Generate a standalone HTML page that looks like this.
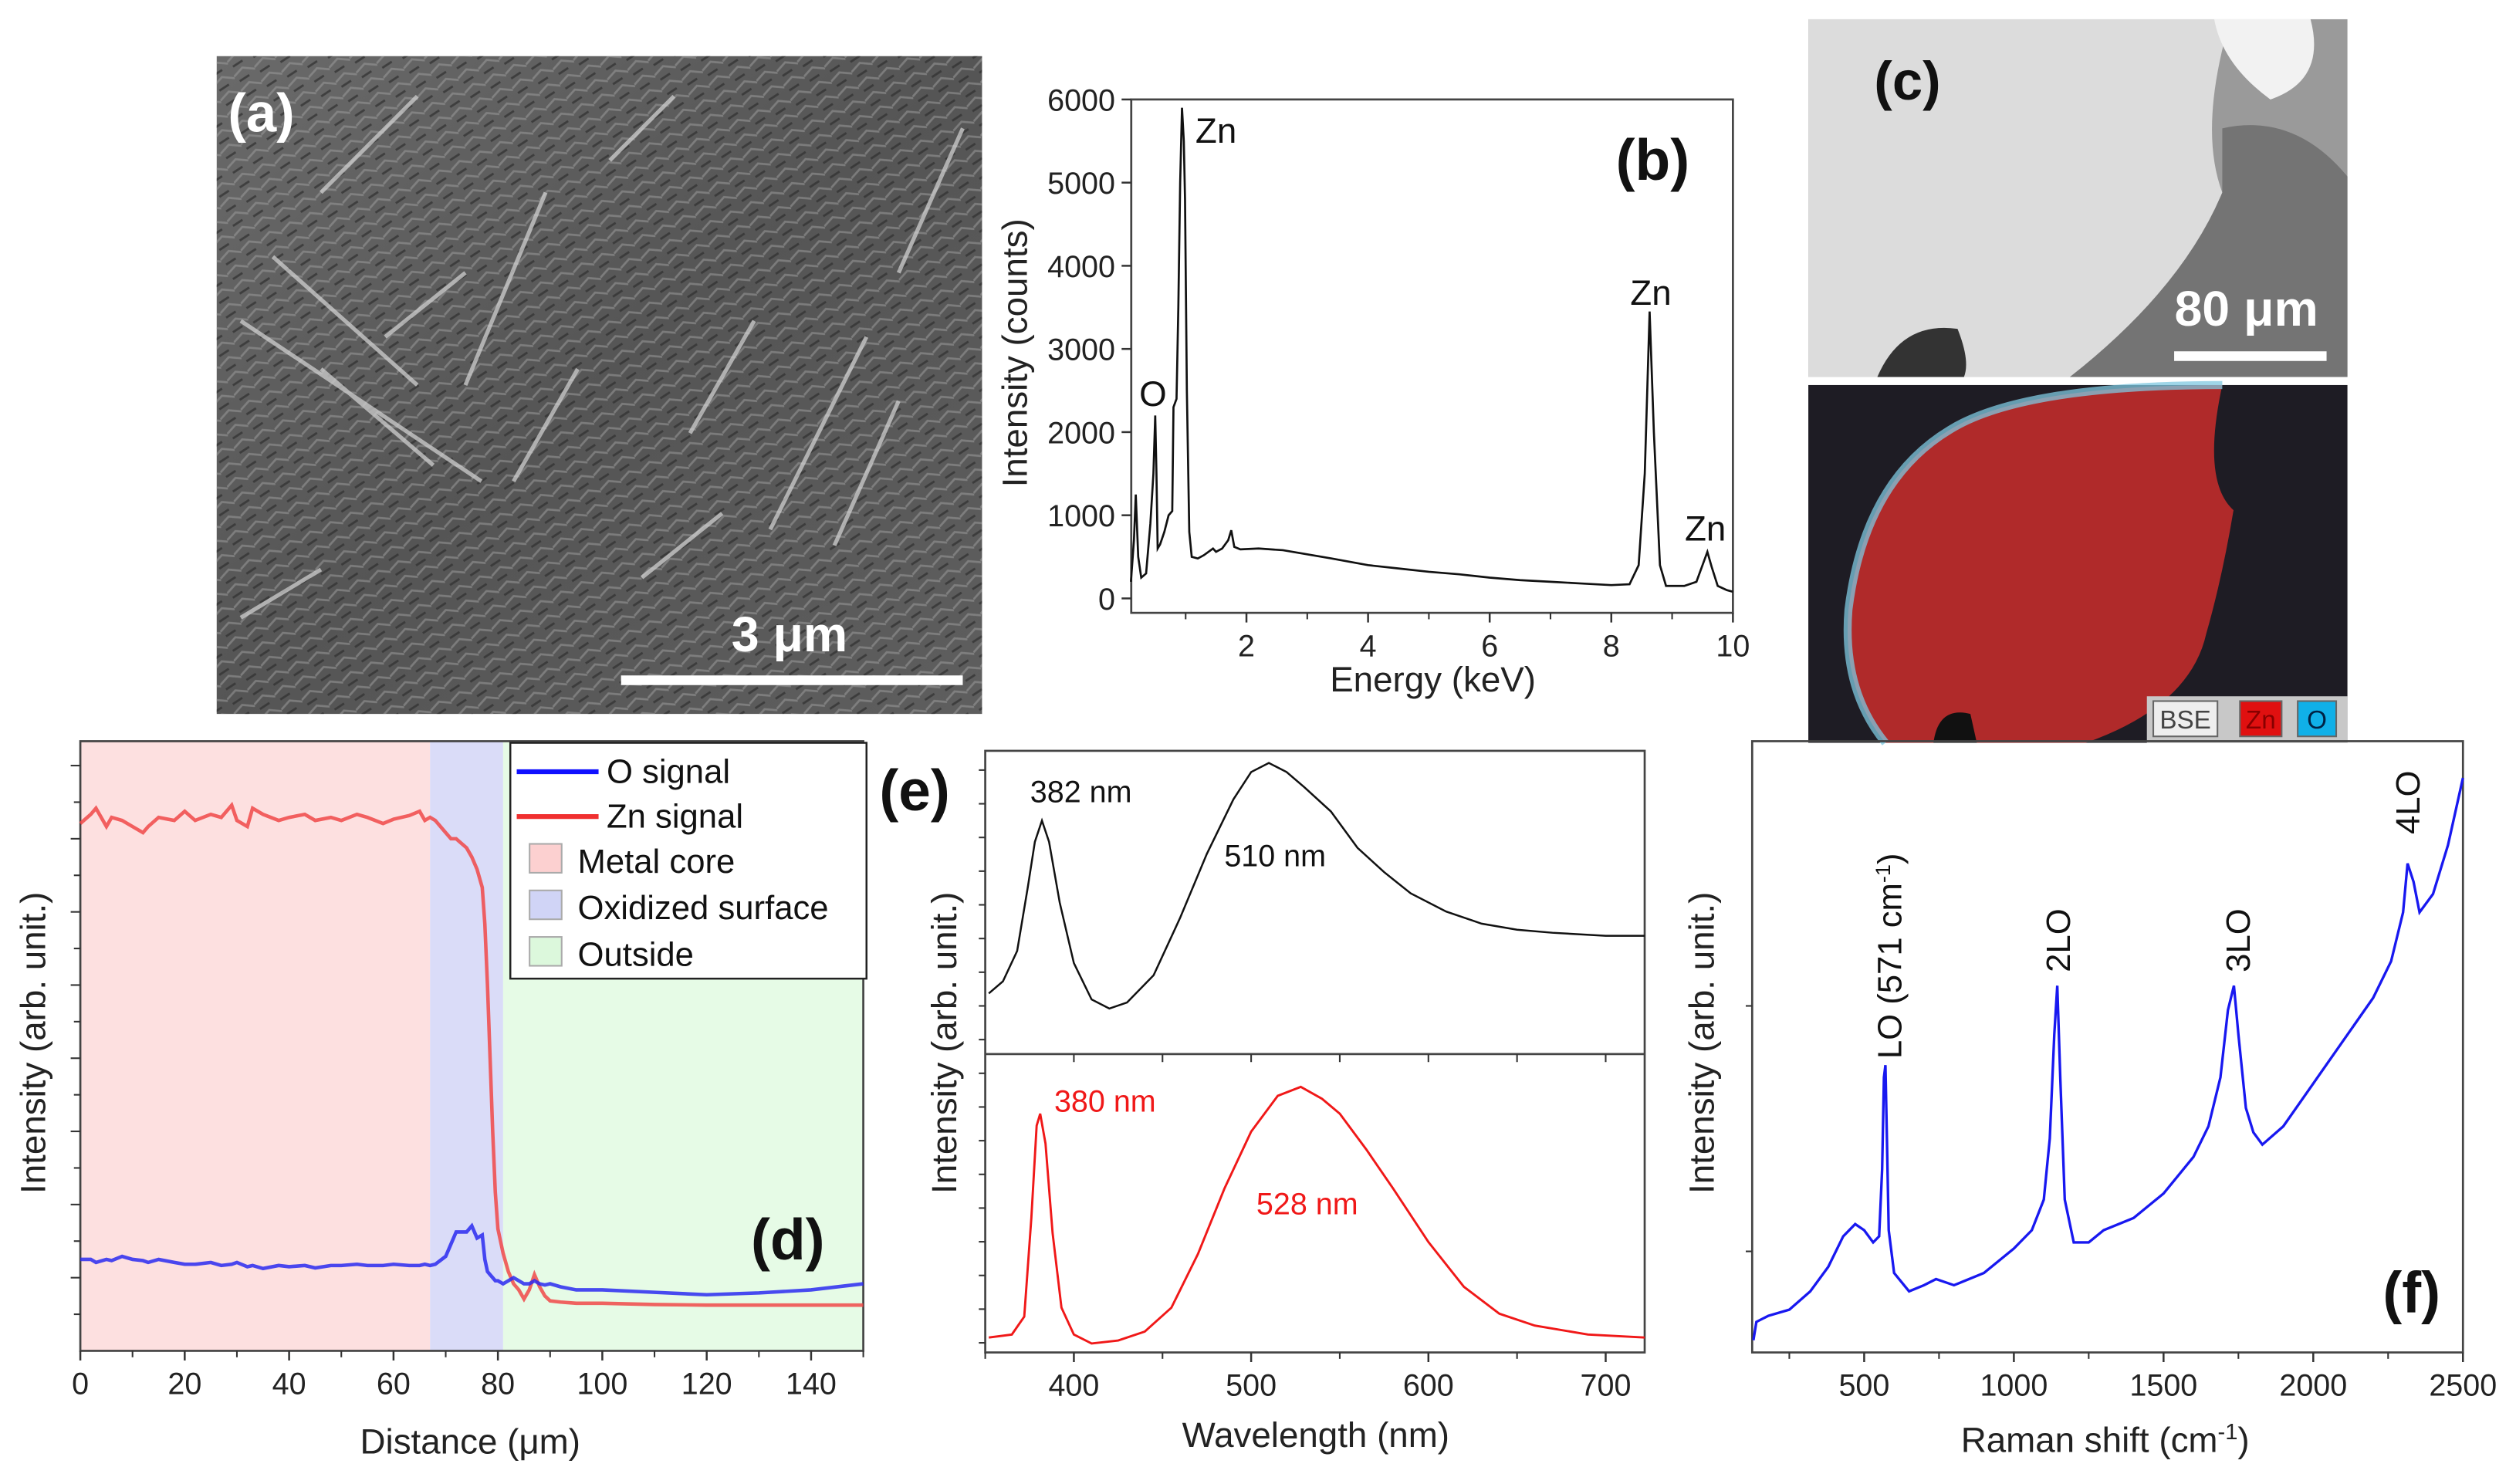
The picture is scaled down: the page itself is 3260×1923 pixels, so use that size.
<!DOCTYPE html>
<html><head><meta charset="utf-8"><style>
html,body{margin:0;padding:0;background:#fff}
svg{display:block}
text{font-family:"Liberation Sans",Arial,sans-serif}
</style></head><body>
<svg id="fig" width="3260" height="1923" viewBox="0 0 1568 925" xmlns="http://www.w3.org/2000/svg">
<defs>
<linearGradient id="semg" x1="0" y1="0" x2="1" y2="1"><stop offset="0" stop-color="#6a6a6a"/><stop offset="0.5" stop-color="#555"/><stop offset="1" stop-color="#5e5e5e"/></linearGradient>
<pattern id="tex" width="14" height="10" patternUnits="userSpaceOnUse" patternTransform="rotate(-25)"><rect width="14" height="10" fill="none"/><path d="M0 5 L7 2 L14 6" stroke="#9a9a9a" stroke-width="1.3" fill="none" opacity="0.55"/><path d="M2 9 L9 8" stroke="#2e2e2e" stroke-width="1.4" opacity="0.7"/></pattern>
</defs>
<!-- (a) SEM -->
<g>
<rect x="135" y="35" width="477" height="410" fill="url(#semg)"/>
<rect x="135" y="35" width="477" height="410" fill="url(#tex)"/>
<g stroke="#cfcfcf" stroke-width="2.5" opacity="0.75">
<line x1="150" y1="200" x2="300" y2="300"/><line x1="290" y1="240" x2="340" y2="120"/><line x1="480" y1="330" x2="540" y2="210"/><line x1="200" y1="120" x2="260" y2="60"/><line x1="150" y1="385" x2="200" y2="355"/><line x1="380" y1="100" x2="420" y2="60"/><line x1="520" y1="340" x2="560" y2="250"/><line x1="240" y1="210" x2="290" y2="170"/>
<line x1="170" y1="160" x2="260" y2="240"/><line x1="200" y1="230" x2="270" y2="290"/><line x1="320" y1="300" x2="360" y2="230"/><line x1="430" y1="270" x2="470" y2="200"/><line x1="560" y1="170" x2="600" y2="80"/><line x1="400" y1="360" x2="450" y2="320"/></g>
<text x="142" y="82" font-size="34" font-weight="bold" fill="#fff">(a)</text>
<line x1="387" y1="424" x2="600" y2="424" stroke="#fff" stroke-width="6"/>
<text x="492" y="406" font-size="31" font-weight="bold" fill="#fff" text-anchor="middle">3 μm</text>
</g>
<!-- (c) images -->
<g>
<rect x="1127" y="12" width="336" height="223" fill="#9a9a9a"/>
<path d="M1127 12 L1390 12 Q1370 80 1385 120 Q1360 180 1290 235 L1127 235 Z" fill="#dcdcdc"/>
<path d="M1380 12 L1440 12 Q1450 50 1415 62 Q1385 40 1380 12Z" fill="#f2f2f2"/>
<path d="M1385 80 Q1430 70 1463 110 L1463 235 L1290 235 Q1360 180 1385 120Z" fill="#747474"/>
<path d="M1170 235 Q1185 200 1220 205 Q1228 225 1224 235Z" fill="#333"/>
<text x="1168" y="62" font-size="34" font-weight="bold" fill="#111">(c)</text>
<line x1="1355" y1="222" x2="1450" y2="222" stroke="#fff" stroke-width="6"/>
<text x="1400" y="203" font-size="31" font-weight="bold" fill="#fff" text-anchor="middle">80 μm</text>
</g>
<g>
<rect x="1127" y="240" width="336" height="223" fill="#1e1c24"/>
<path d="M1215 268 Q1260 240 1385 240 Q1372 300 1392 318 Q1385 360 1375 395 Q1365 440 1300 463 L1175 463 Q1148 430 1152 380 Q1162 300 1215 268Z" fill="#b02a2a"/>
<path d="M1385 240 Q1260 240 1215 268 Q1162 300 1152 380 Q1148 430 1175 463" fill="none" stroke="#7fc8e0" stroke-width="5" stroke-opacity="0.75"/>
<path d="M1205 463 Q1208 440 1228 445 L1232 463Z" fill="#111"/>
<rect x="1338" y="434" width="125" height="29" fill="#c8c8c8"/>
<rect x="1342" y="437" width="40" height="22" fill="#eee" stroke="#666"/><text x="1362" y="454" font-size="16" text-anchor="middle" fill="#444">BSE</text>
<rect x="1396" y="437" width="26" height="22" fill="#e01010" stroke="#666"/><text x="1409" y="454" font-size="16" text-anchor="middle" fill="#800">Zn</text>
<rect x="1432" y="437" width="24" height="22" fill="#10b0e8" stroke="#666"/><text x="1444" y="454" font-size="16" text-anchor="middle" fill="#024">O</text>
</g>
<g id="charts"></g>
</svg>
<script>
// ---- data ----
// (b) EDS spectrum
const edsEnergy=[0.1,0.15,0.18,0.22,0.27,0.35,0.42,0.47,0.5,0.52,0.54,0.58,0.65,0.72,0.78,0.8,0.85,0.88,0.91,0.94,0.97,0.99,1.02,1.06,1.1,1.2,1.3,1.45,1.5,1.6,1.7,1.75,1.8,1.9,2.2,2.6,3,3.4,4,4.5,5,5.5,6,6.5,7,7.5,8,8.3,8.45,8.55,8.63,8.7,8.8,8.9,9.2,9.4,9.5,9.58,9.65,9.75,9.9,10];
const edsCounts=[200,700,1250,500,250,300,900,1500,2200,1500,600,650,800,1000,1050,2300,2400,3500,5000,5900,5500,4800,2500,800,500,480,520,600,560,600,700,820,620,590,600,580,530,480,400,360,320,290,250,220,200,180,160,170,400,1500,3450,2000,400,150,150,200,400,560,380,150,100,80];
const edsXTicks=[2,4,6,8,10];
const edsYTicks=[0,1000,2000,3000,4000,5000,6000];
// (d) line scan
const scanDist=[0,2,3,5,6,8,10,12,13,15,18,20,22,25,27,29,30,32,33,35,38,40,43,45,48,50,53,55,58,60,63,65,66,67,68,70,71,72,74,75,76,77,77.5,78,78.5,79,79.5,80,81,82,83,84,85,86,87,88,89,90,92,95,100,110,120,130,140,150];
const scanZn=[8.65,8.8,8.9,8.6,8.75,8.7,8.6,8.5,8.6,8.75,8.7,8.85,8.7,8.8,8.75,8.95,8.7,8.6,8.9,8.8,8.7,8.75,8.8,8.7,8.75,8.7,8.8,8.75,8.65,8.72,8.78,8.85,8.7,8.75,8.7,8.5,8.4,8.4,8.25,8.1,7.9,7.6,7.0,6.0,4.8,3.6,2.6,2.0,1.6,1.3,1.1,1.0,0.85,1.0,1.25,1.05,0.9,0.82,0.8,0.78,0.78,0.76,0.75,0.75,0.75,0.75];
const scanO=[1.5,1.5,1.45,1.5,1.48,1.55,1.5,1.48,1.45,1.5,1.45,1.42,1.42,1.45,1.4,1.42,1.45,1.38,1.4,1.35,1.4,1.38,1.4,1.36,1.4,1.4,1.42,1.4,1.4,1.42,1.4,1.4,1.42,1.4,1.42,1.55,1.75,1.95,1.95,2.05,1.85,1.9,1.5,1.3,1.25,1.2,1.15,1.15,1.1,1.15,1.2,1.15,1.1,1.1,1.15,1.1,1.08,1.1,1.05,1.0,1.0,0.96,0.92,0.95,1.0,1.1];
const scanXTicks=[0,20,40,60,80,100,120,140];
const regionNames=["Metal core","Oxidized surface","Outside"];
const regionStart=[0,67,81];
const regionEnd=[67,81,150];
// (e) PL spectra
const plWlBlack=[352,360,368,374,378,382,386,392,400,410,420,430,445,460,475,490,500,510,520,530,545,560,575,590,610,630,650,670,700,722];
const plBlack=[0.2,0.24,0.34,0.55,0.7,0.77,0.7,0.5,0.3,0.18,0.15,0.17,0.26,0.45,0.66,0.84,0.93,0.96,0.93,0.88,0.8,0.68,0.6,0.53,0.47,0.43,0.41,0.4,0.39,0.39];
const plWlRed=[352,365,372,376,379,381,384,388,393,400,410,425,440,455,470,485,500,515,528,540,550,565,580,600,620,640,660,690,722];
const plRed=[0.05,0.06,0.12,0.45,0.76,0.8,0.7,0.4,0.15,0.06,0.03,0.04,0.07,0.15,0.33,0.55,0.74,0.86,0.89,0.85,0.8,0.68,0.55,0.37,0.22,0.13,0.09,0.06,0.05];
const plXTicks=[400,500,600,700];
// (f) Raman
const ramanShift=[130,140,180,250,320,380,430,470,500,530,550,560,566,571,576,582,600,650,700,740,800,900,1000,1060,1100,1120,1135,1145,1155,1170,1200,1250,1300,1400,1500,1600,1650,1690,1715,1735,1750,1775,1800,1830,1900,2000,2100,2200,2260,2300,2315,2335,2355,2400,2450,2500];
const ramanI=[0.02,0.05,0.06,0.07,0.1,0.14,0.19,0.21,0.2,0.18,0.19,0.3,0.45,0.47,0.35,0.2,0.13,0.1,0.11,0.12,0.11,0.13,0.17,0.2,0.25,0.35,0.52,0.6,0.45,0.25,0.18,0.18,0.2,0.22,0.26,0.32,0.37,0.45,0.56,0.6,0.52,0.4,0.36,0.34,0.37,0.44,0.51,0.58,0.64,0.72,0.8,0.77,0.72,0.75,0.83,0.94];
const ramanXTicks=[500,1000,1500,2000,2500];

// ---- helpers ----
const NS="http://www.w3.org/2000/svg";
const root=document.getElementById('charts');
function mk(tag,attrs,parent,txt){const e=document.createElementNS(NS,tag);for(const k in attrs)e.setAttribute(k,attrs[k]);if(txt!==undefined)e.textContent=txt;(parent||root).appendChild(e);return e;}
function lin(d0,d1,r0,r1){return v=>r0+(v-d0)/(d1-d0)*(r1-r0);}
function pathD(xs,ys,sx,sy){return xs.map((x,i)=>(i?'L':'M')+sx(x).toFixed(2)+' '+sy(ys[i]).toFixed(2)).join(' ');}
function xTicks(g,sx,ticks,y,minor,lab){ticks.forEach(t=>{mk('line',{x1:sx(t),x2:sx(t),y1:y,y2:y+6,stroke:'#333','stroke-width':1.2},g);
 const tl=mk('text',{x:sx(t),y:y+27,'font-size':19,'text-anchor':'middle',fill:'#222'},g,String(t));
 
 });
 minor.forEach(t=>mk('line',{x1:sx(t),x2:sx(t),y1:y,y2:y+4,stroke:'#333','stroke-width':1},g));}

// ---- (b) EDS ----
{const g=mk('g',{});
 const sx=lin(0,10,701,1080), sy=lin(0,6000,373,62);
 mk('rect',{x:705,y:62,width:375,height:320,fill:'none',stroke:'#444','stroke-width':1.3},g);
 xTicks(g,sx,edsXTicks,382,[1,3,5,7,9],'energy');
 edsYTicks.forEach(t=>{mk('line',{x1:699,x2:705,y1:sy(t),y2:sy(t),stroke:'#333','stroke-width':1.2},g);
  const tl=mk('text',{x:695,y:sy(t)+7,'font-size':19,'text-anchor':'end',fill:'#222'},g,String(t));
  
  });
 const p=mk('path',{d:pathD(edsEnergy,edsCounts,sx,sy),fill:'none',stroke:'#111','stroke-width':1.3},g);
 
 
 mk('text',{x:893,y:431,'font-size':22,'text-anchor':'middle',fill:'#222',},g,'Energy (keV)');
 mk('text',{x:640,y:220,'font-size':22,'text-anchor':'middle',fill:'#222',transform:'rotate(-90 640 220)',},g,'Intensity (counts)');
 mk('text',{x:745,y:89,'font-size':22,fill:'#111',},g,'Zn');
 mk('text',{x:710,y:253,'font-size':22,fill:'#111',},g,'O');
 mk('text',{x:1016,y:190,'font-size':22,fill:'#111',},g,'Zn');
 mk('text',{x:1050,y:337,'font-size':22,fill:'#111',},g,'Zn');
 mk('text',{x:1007,y:112,'font-size':36,'font-weight':'bold',fill:'#111',},g,'(b)');
}
// ---- (d) line scan ----
{const g=mk('g',{});
 const sx=lin(0,150,50,538), sy=lin(0,10,842,462);
 const cols=['#fde0e0','#dadcf8','#e6fbe6'];
 regionStart.forEach((s,i)=>{const r=mk('rect',{x:sx(s),y:462,width:sx(regionEnd[i])-sx(s),height:380,fill:cols[i]},g);
  
  });
 mk('rect',{x:50,y:462,width:488,height:380,fill:'none',stroke:'#444','stroke-width':1.3},g);
 xTicks(g,sx,scanXTicks,842,[10,30,50,70,90,110,130,150],'distance');
 for(let t=0.6;t<10;t+=0.6){const big=Math.round(t/0.6)%2===0;mk('line',{x1:big?44:46,x2:50,y1:sy(t),y2:sy(t),stroke:'#333','stroke-width':1},g);}
 const z=mk('path',{d:pathD(scanDist,scanZn,sx,sy),fill:'none',stroke:'#f04848','stroke-width':2.2,'stroke-opacity':0.85},g);
 
 
 const o=mk('path',{d:pathD(scanDist,scanO,sx,sy),fill:'none',stroke:'#2a2af0','stroke-width':2.2,'stroke-opacity':0.85},g);
 
 
 const lg=mk('g',{},g);
 mk('rect',{x:318,y:463,width:222,height:147,fill:'#fff',stroke:'#222','stroke-width':1.2},lg);
 mk('line',{x1:322,x2:373,y1:481,y2:481,stroke:'#1010ff','stroke-width':3},lg);
 mk('text',{x:378,y:488,'font-size':21,fill:'#111'},lg,'O signal');
 mk('line',{x1:322,x2:373,y1:509,y2:509,stroke:'#f03030','stroke-width':3},lg);
 mk('text',{x:378,y:516,'font-size':21,fill:'#111'},lg,'Zn signal');
 ['#fcd0d0','#d0d4f6','#dcf8dc'].forEach((c,i)=>{mk('rect',{x:330,y:526+i*29,width:20,height:18,fill:c,stroke:'#aaa'},lg);
  const t=mk('text',{x:360,y:544+i*29,'font-size':21,fill:'#111'},lg,regionNames[i]);
  
  });
 mk('text',{x:293,y:906,'font-size':22,'text-anchor':'middle',fill:'#222',},g,'Distance (μm)');
 mk('text',{x:28,y:650,'font-size':22,'text-anchor':'middle',fill:'#222',transform:'rotate(-90 28 650)',},g,'Intensity (arb. unit.)');
 mk('text',{x:468,y:785,'font-size':36,'font-weight':'bold',fill:'#111',},g,'(d)');
}
// ---- (e) PL ----
{const g=mk('g',{});
 const sx=lin(350,722,614,1025), syT=lin(0,1,657,468), syB=lin(0,1,843,657);
 mk('rect',{x:614,y:468,width:411,height:375,fill:'none',stroke:'#444','stroke-width':1.3},g);
 mk('line',{x1:614,x2:1025,y1:657,y2:657,stroke:'#444','stroke-width':1.3},g);
 xTicks(g,sx,plXTicks,843,[350,450,550,650],'wavelength');
 plXTicks.concat([450,550,650]).forEach(t=>mk('line',{x1:sx(t),x2:sx(t),y1:657,y2:662,stroke:'#333'},g));
 for(let y=480;y<843;y+=21)mk('line',{x1:610,x2:614,y1:y,y2:y,stroke:'#333'},g);
 const pb=mk('path',{d:pathD(plWlBlack,plBlack,sx,syT),fill:'none',stroke:'#111','stroke-width':1.2},g);
 
 
 const pr=mk('path',{d:pathD(plWlRed,plRed,sx,syB),fill:'none',stroke:'#f01818','stroke-width':1.4},g);
 
 
 mk('text',{x:642,y:500,'font-size':19,fill:'#111',},g,'382 nm');
 mk('text',{x:763,y:540,'font-size':19,fill:'#111',},g,'510 nm');
 mk('text',{x:657,y:693,'font-size':19,fill:'#f01818',},g,'380 nm');
 mk('text',{x:783,y:757,'font-size':19,fill:'#f01818',},g,'528 nm');
 mk('text',{x:820,y:902,'font-size':22,'text-anchor':'middle',fill:'#222',},g,'Wavelength (nm)');
 mk('text',{x:596,y:650,'font-size':22,'text-anchor':'middle',fill:'#222',transform:'rotate(-90 596 650)',},g,'Intensity (arb. unit.)');
 mk('text',{x:548,y:505,'font-size':36,'font-weight':'bold',fill:'#111',},g,'(e)');
}
// ---- (f) Raman ----
{const g=mk('g',{});
 const sx=lin(2500-(1535-1092)/0.1866,2500,1092,1535), sy=lin(0,1,843,462);
 mk('rect',{x:1092,y:462,width:443,height:381,fill:'none',stroke:'#444','stroke-width':1.3},g);
 xTicks(g,sx,ramanXTicks,843,[250,750,1250,1750,2250],'raman');
 [627,780].forEach(y=>mk('line',{x1:1088,x2:1092,y1:y,y2:y,stroke:'#333'},g));
 const pr=mk('path',{d:pathD(ramanShift,ramanI,sx,sy),fill:'none',stroke:'#1818f0','stroke-width':1.6},g);
 
 
 const lab=(x,y,t,n)=>{const e=mk('text',{x:x,y:y,'font-size':21,fill:'#111',transform:`rotate(-90 ${x} ${y})`},g);e.innerHTML=t;};
 lab(1185,660,'LO (571 cm<tspan dy="-7" font-size="13">-1</tspan><tspan dy="7">)</tspan>','peak-label-lo');
 lab(1290,606,'2LO','peak-label-2lo');
 lab(1402,606,'3LO','peak-label-3lo');
 lab(1508,520,'4LO','peak-label-4lo');
 const xt=mk('text',{x:1312,y:905,'font-size':22,'text-anchor':'middle',fill:'#222'},g);
 xt.innerHTML='Raman shift (cm<tspan dy="-8" font-size="14">-1</tspan><tspan dy="8">)</tspan>';
 
 
 mk('text',{x:1068,y:650,'font-size':22,'text-anchor':'middle',fill:'#222',transform:'rotate(-90 1068 650)',},g,'Intensity (arb. unit.)');
 mk('text',{x:1485,y:818,'font-size':36,'font-weight':'bold',fill:'#111',},g,'(f)');
}
</script>
</body></html>
